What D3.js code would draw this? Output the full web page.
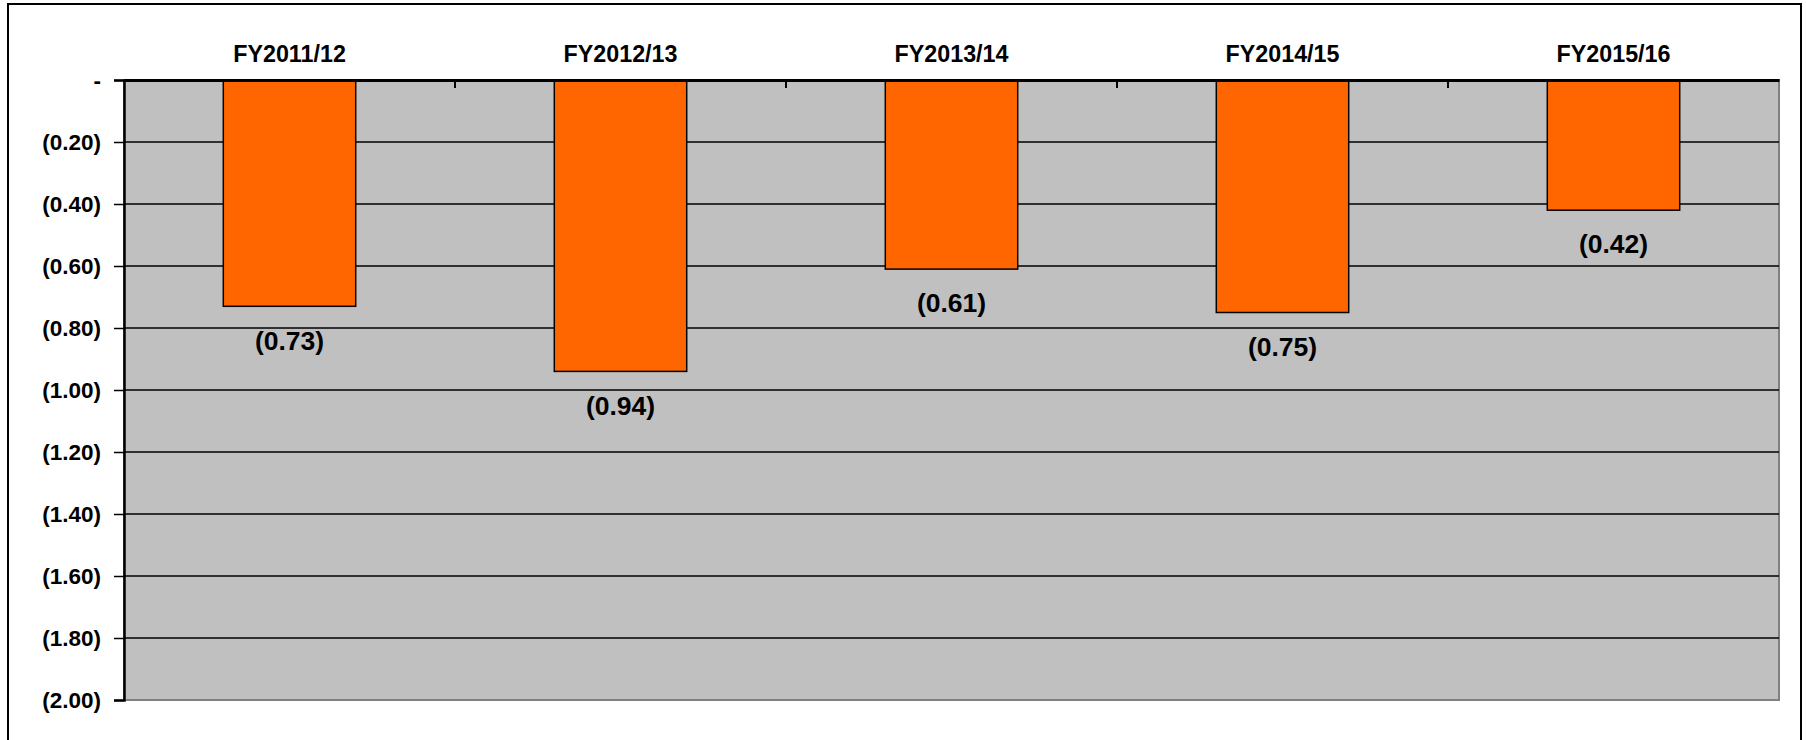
<!DOCTYPE html>
<html>
<head>
<meta charset="utf-8">
<script src="https://cdn.jsdelivr.net/npm/d3@7"></script>
<style>
  body { margin: 0; background: #fff; }
  svg text { font-family: "Liberation Sans", Arial, sans-serif; font-weight: bold; }
</style>
</head>
<body>
<div id="chart"></div>
<script>
// Data
const categories = ["FY2011/12", "FY2012/13", "FY2013/14", "FY2014/15", "FY2015/16"];
const values = [-0.73, -0.94, -0.61, -0.75, -0.42];
const yTicks = [0, -0.2, -0.4, -0.6, -0.8, -1.0, -1.2, -1.4, -1.6, -1.8, -2.0];

const W = 1806, H = 740;
const margin = { top: 80, right: 27, bottom: 40, left: 124 };
const width = W - margin.left - margin.right;
const height = 700 - margin.top;

const svg = d3.select("#chart").append("svg")
  .attr("width", W)
  .attr("height", H);

// outer frame
svg.append("rect")
  .attr("x", 8).attr("y", 4)
  .attr("width", 1793).attr("height", 760)
  .attr("fill", "none")
  .attr("stroke", "#000")
  .attr("stroke-width", 2);

const g = svg.append("g").attr("transform", `translate(${margin.left},${margin.top})`);

const x = d3.scaleBand().domain(categories).range([0, width]).paddingInner(0.6).paddingOuter(0.3);
const xb = d3.scaleBand().domain(categories).range([0, width]);
const y = d3.scaleLinear().domain([0, -2]).range([0, height]);

// plot background
g.append("rect")
  .attr("width", width).attr("height", height)
  .attr("fill", "#c0c0c0")
  .attr("stroke", "#808080")
  .attr("stroke-width", 2);

// gridlines
g.append("g")
  .selectAll("line")
  .data(yTicks.slice(1, -1))
  .join("line")
  .attr("x1", 0).attr("x2", width)
  .attr("y1", d => y(d)).attr("y2", d => y(d))
  .attr("stroke", "#000")
  .attr("stroke-width", 1.5);

// y axis
const yAxis = g.append("g")
  .call(d3.axisLeft(y).tickValues(yTicks).tickSize(10).tickPadding(13)
    .tickFormat(d => d === 0 ? "-" : `(${Math.abs(d).toFixed(2)})`));
yAxis.select(".domain").attr("stroke", "#000").attr("stroke-width", 2.5);
yAxis.selectAll(".tick line").attr("stroke", "#000").attr("stroke-width", 1.5);
yAxis.selectAll(".tick text").attr("font-size", 22.5).attr("fill", "#000")
  .attr("font-family", "Liberation Sans, Arial, sans-serif").attr("font-weight", "bold");

// bars
g.append("g")
  .selectAll("rect")
  .data(values)
  .join("rect")
  .attr("x", (d, i) => x(categories[i]))
  .attr("y", y(0))
  .attr("width", x.bandwidth())
  .attr("height", d => y(d) - y(0))
  .attr("fill", "#ff6600")
  .attr("stroke", "#000")
  .attr("stroke-width", 1.5);

// category axis along zero line
const xAxis = g.append("g")
  .attr("transform", `translate(0,${y(0)})`)
  .call(d3.axisTop(xb).tickSize(0).tickPadding(18));
xAxis.select(".domain").attr("stroke", "#000").attr("stroke-width", 3);
xAxis.selectAll(".tick text").attr("font-size", 23.3).attr("fill", "#000")
  .attr("font-family", "Liberation Sans, Arial, sans-serif").attr("font-weight", "bold");

// category boundary ticks
g.append("g")
  .selectAll("line")
  .data(categories.slice(1))
  .join("line")
  .attr("x1", d => xb(d)).attr("x2", d => xb(d))
  .attr("y1", y(0)).attr("y2", y(0) + 8)
  .attr("stroke", "#000")
  .attr("stroke-width", 2);

// value labels
g.append("g")
  .selectAll("text")
  .data(values)
  .join("text")
  .attr("x", (d, i) => x(categories[i]) + x.bandwidth() / 2)
  .attr("y", d => y(d) + 34)
  .attr("dy", "0.35em")
  .attr("text-anchor", "middle")
  .attr("font-size", 26.5)
  .attr("fill", "#000")
  .text(d => `(${Math.abs(d).toFixed(2)})`);
</script>
</body>
</html>
